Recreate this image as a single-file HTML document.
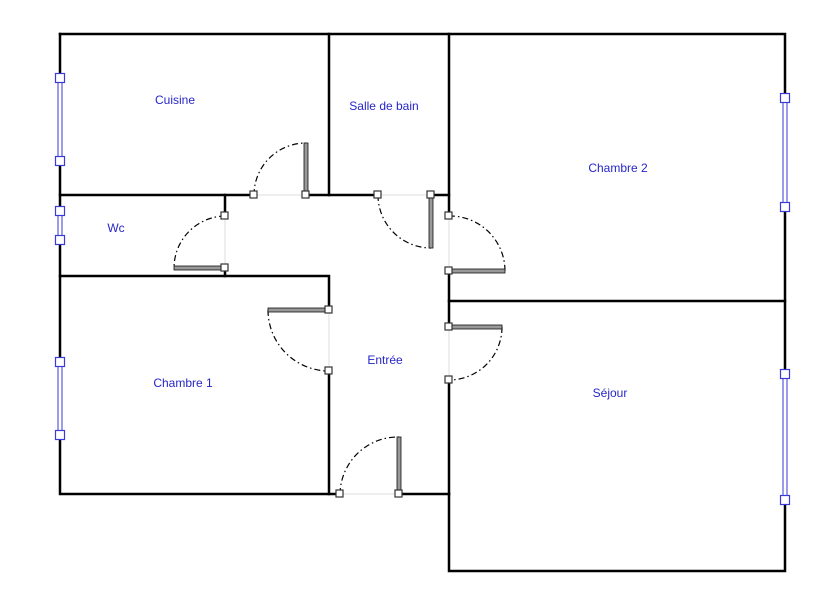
<!DOCTYPE html>
<html><head><style>body{margin:0;background:#fff}svg{display:block}text{font-family:"Liberation Sans",sans-serif;font-size:12px;fill:#2626c8;text-anchor:middle}</style></head>
<body>
<svg width="831" height="610" viewBox="0 0 831 610" xmlns="http://www.w3.org/2000/svg">
<g stroke="#000" stroke-width="2.5" fill="none" stroke-linecap="square">
<path d="M60 34 H785 V571 H449 V494"/>
<path d="M60 34 V494 H340"/>
<path d="M399 494 H449"/>
<path d="M60 195 H254 M306 195 H378 M431 195 H449"/>
<path d="M329 34 V195"/>
<path d="M449 34 V216 M449 271 V327 M449 380 V494"/>
<path d="M449 301 H785"/>
<path d="M225 195 V216 M225 268 V276"/>
<path d="M60 276 H329 V310 M329 371 V494"/>
</g>
<g stroke="#ddd" stroke-width="1">
<path d="M254 195 H306 M378 195 H431 M225 216 V268 M449 216 V271 M449 327 V380 M329 310 V371 M340 494 H399"/>
</g>
<g stroke="#000" stroke-width="1.2" fill="none" stroke-dasharray="6 3 1.5 3">
<path d="M254 195 A52 52 0 0 1 306 143"/>
<path d="M225 216 A52 52 0 0 0 174 268"/>
<path d="M378 195 A53 53 0 0 0 431 248"/>
<path d="M449 216 A55 55 0 0 1 505 271"/>
<path d="M502 327 A53 53 0 0 1 449 380"/>
<path d="M268 310 A61 61 0 0 0 329 371"/>
<path d="M340 494 A58 58 0 0 1 399 437"/>
</g>
<g fill="#999" stroke="#111" stroke-width="0.8">
<rect x="304" y="143" width="4" height="52"/>
<rect x="174" y="266" width="51" height="4"/>
<rect x="429" y="195" width="4" height="53"/>
<rect x="449" y="269" width="56" height="4"/>
<rect x="449" y="325" width="53" height="4"/>
<rect x="268" y="308" width="61" height="4"/>
<rect x="397" y="437" width="4" height="57"/>
</g>
<g fill="#fff" stroke="none">
<rect x="58" y="78" width="4" height="83"/><rect x="58" y="211" width="4" height="29"/><rect x="58" y="362" width="4" height="73"/>
<rect x="783" y="98" width="4" height="109"/><rect x="783" y="374" width="4" height="126"/>
</g>
<g stroke="#3a3ad8" stroke-width="1" fill="none">
<path d="M58 78 V161 M62 78 V161 M58 211 V240 M62 211 V240 M58 362 V435 M62 362 V435 M783 98 V207 M787 98 V207 M783 374 V500 M787 374 V500"/>
</g>
<g stroke="#3a3ad8" stroke-width="1.2" fill="#fff">
<rect x="55.5" y="73.5" width="9" height="9"/><rect x="55.5" y="156.5" width="9" height="9"/>
<rect x="55.5" y="206.5" width="9" height="9"/><rect x="55.5" y="235.5" width="9" height="9"/>
<rect x="55.5" y="357.5" width="9" height="9"/><rect x="55.5" y="430.5" width="9" height="9"/>
<rect x="780.5" y="93.5" width="9" height="9"/><rect x="780.5" y="202.5" width="9" height="9"/>
<rect x="780.5" y="369.5" width="9" height="9"/><rect x="780.5" y="495.5" width="9" height="9"/>
</g>
<g stroke="#333" stroke-width="1.2" fill="#fff">
<rect x="250" y="191" width="7" height="7"/><rect x="302" y="191" width="7" height="7"/>
<rect x="374" y="191" width="7" height="7"/><rect x="427" y="191" width="7" height="7"/>
<rect x="221" y="212" width="7" height="7"/><rect x="221" y="264" width="7" height="7"/>
<rect x="445" y="212" width="7" height="7"/><rect x="445" y="267" width="7" height="7"/>
<rect x="445" y="323" width="7" height="7"/><rect x="445" y="376" width="7" height="7"/>
<rect x="325" y="306" width="7" height="7"/><rect x="325" y="367" width="7" height="7"/>
<rect x="336" y="490" width="7" height="7"/><rect x="395" y="490" width="7" height="7"/>
</g>
<text x="175" y="104">Cuisine</text>
<text x="384" y="110">Salle de bain</text>
<text x="618" y="172">Chambre 2</text>
<text x="116" y="232">Wc</text>
<text x="385" y="364">Entrée</text>
<text x="183" y="387">Chambre 1</text>
<text x="610" y="397">Séjour</text>
</svg>
</body></html>
